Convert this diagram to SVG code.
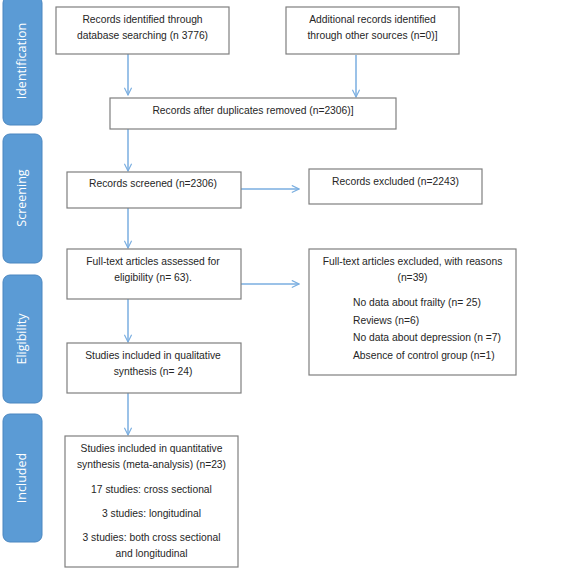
<svg xmlns="http://www.w3.org/2000/svg" width="562" height="575" viewBox="0 0 562 575">
<style>
.bar{fill:#5b9bd5;stroke:#4a86c0;stroke-width:1}
.lbl{fill:#ffffff;font-family:"Open Sans","Liberation Sans",sans-serif;font-size:12.5px;text-anchor:middle}
.box{fill:#ffffff;stroke:#7f7f7f;stroke-width:1.2}
.t{fill:#262626;font-family:"Liberation Sans",Arial,sans-serif;font-size:10.3px;text-anchor:middle}
.tl{fill:#262626;font-family:"Liberation Sans",Arial,sans-serif;font-size:10.3px}
.c{stroke:#7aaee0;stroke-width:1.5;fill:none}
</style>
<defs>
<marker id="ah" viewBox="0 0 10 10" refX="9" refY="5" markerWidth="9" markerHeight="9" markerUnits="userSpaceOnUse" orient="auto">
<path d="M1,1 L9,5 L1,9" fill="none" stroke="#7aaee0" stroke-width="1.3"/>
</marker>
</defs>
<rect width="562" height="575" fill="#ffffff"/>
<g id="phase-identification"><rect class="bar" x="3" y="-4" width="39" height="129" rx="7"/><text class="lbl" transform="translate(26,61) rotate(-90)">Identification</text></g>
<g id="phase-screening"><rect class="bar" x="3" y="134" width="39" height="129" rx="7"/><text class="lbl" transform="translate(26,198) rotate(-90)">Screening</text></g>
<g id="phase-eligibility"><rect class="bar" x="3" y="275" width="39" height="128" rx="7"/><text class="lbl" transform="translate(26,339) rotate(-90)">Eligibility</text></g>
<g id="phase-included"><rect class="bar" x="3" y="414" width="39" height="128" rx="7"/><text class="lbl" transform="translate(26,478) rotate(-90)">Included</text></g>
<g id="connectors">
<line class="c" x1="128" y1="54" x2="128" y2="95" marker-end="url(#ah)"/>
<line class="c" x1="356" y1="55" x2="356" y2="97" marker-end="url(#ah)"/>
<line class="c" x1="128" y1="129" x2="128" y2="171" marker-end="url(#ah)"/>
<line class="c" x1="241" y1="189" x2="299" y2="189" marker-end="url(#ah)"/>
<line class="c" x1="128" y1="208" x2="128" y2="248" marker-end="url(#ah)"/>
<line class="c" x1="241" y1="284" x2="299" y2="284" marker-end="url(#ah)"/>
<line class="c" x1="128" y1="299" x2="128" y2="342" marker-end="url(#ah)"/>
<line class="c" x1="128" y1="393" x2="128" y2="435" marker-end="url(#ah)"/>
</g>
<g id="n-db"><rect class="box" x="56" y="7" width="173" height="47"/><text class="t" x="142.5" y="23">Records identified through</text><text class="t" x="142.5" y="39">database searching (n 3776)</text></g>
<g id="n-other"><rect class="box" x="286" y="7" width="173" height="47"/><text class="t" x="372.5" y="23">Additional records identified</text><text class="t" x="372.5" y="39">through other sources (n=0)]</text></g>
<g id="n-dup"><rect class="box" x="110" y="98" width="286" height="31"/><text class="t" x="253" y="114">Records after duplicates removed (n=2306)]</text></g>
<g id="n-screened"><rect class="box" x="67" y="172" width="174" height="36"/><text class="t" x="153" y="187">Records screened (n=2306)</text></g>
<g id="n-excluded"><rect class="box" x="309" y="169" width="173" height="35"/><text class="t" x="395.5" y="185">Records excluded (n=2243)</text></g>
<g id="n-fulltext"><rect class="box" x="67" y="249" width="174" height="50"/><text class="t" x="153" y="265">Full-text articles assessed for</text><text class="t" x="153" y="281">eligibility (n= 63).</text></g>
<g id="n-ftexcl"><rect class="box" x="309" y="249" width="207" height="126"/><text class="t" x="412.5" y="265">Full-text articles excluded, with reasons</text><text class="t" x="412.5" y="281">(n=39)</text><text class="tl" x="353" y="306">No data about frailty (n= 25)</text><text class="tl" x="353" y="324">Reviews (n=6)</text><text class="tl" x="353" y="341">No data about depression (n =7)</text><text class="tl" x="353" y="359">Absence of control group (n=1)</text></g>
<g id="n-qual"><rect class="box" x="67" y="343" width="174" height="50"/><text class="t" x="153" y="359">Studies included in qualitative</text><text class="t" x="153" y="375">synthesis (n= 24)</text></g>
<g id="n-quant"><rect class="box" x="65" y="436" width="173" height="131"/><text class="t" x="151.5" y="452">Studies included in quantitative</text><text class="t" x="151.5" y="468">synthesis (meta-analysis) (n=23)</text><text class="t" x="151.5" y="493">17 studies: cross sectional</text><text class="t" x="151.5" y="517">3 studies: longitudinal</text><text class="t" x="151.5" y="541">3 studies: both cross sectional</text><text class="t" x="151.5" y="557">and longitudinal</text></g>
</svg>
